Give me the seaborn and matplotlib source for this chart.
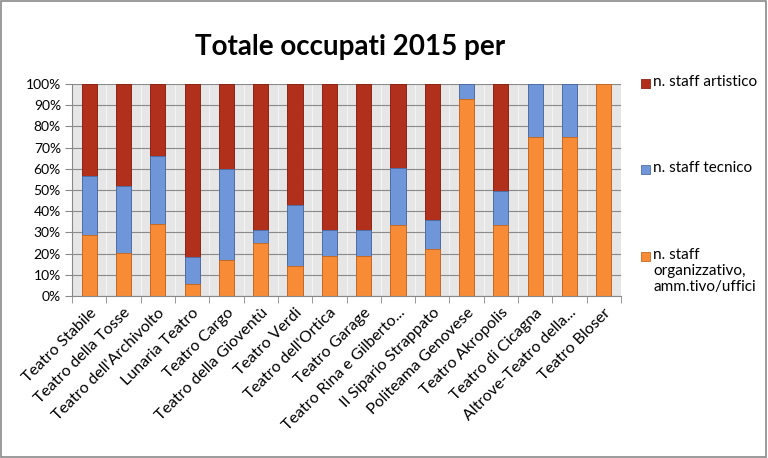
import numpy as np
import pandas as pd
import seaborn as sns
from matplotlib import pyplot as plt
from matplotlib.patches import Rectangle

# data (percent share of employees per theatre)
teatri = ["Teatro Stabile", "Teatro della Tosse", "Teatro dell'Archivolto", "Lunaria Teatro",
          "Teatro Cargo", "Teatro della Gioventù", "Teatro Verdi", "Teatro dell'Ortica",
          "Teatro Garage", "Teatro Rina e Gilberto...", "Il Sipario Strappato",
          "Politeama Genovese", "Teatro Akropolis", "Teatro di Cicagna",
          "Altrove-Teatro della...", "Teatro Bloser"]
organizzativo = [28.6, 20.4, 34.0, 5.7, 17.1, 24.8, 14.3, 19.0, 19.0, 33.5, 22.0, 92.9, 33.5, 74.8, 74.8, 100.0]
tecnico = [28.2, 31.6, 31.9, 12.7, 43.0, 6.2, 28.5, 12.1, 12.1, 26.7, 13.8, 7.1, 16.2, 25.2, 25.2, 0.0]
artistico = [round(100 - o - t, 1) for o, t in zip(organizzativo, tecnico)]

labels = ["n. staff artistico", "n. staff tecnico", "n. staff\norganizzativo,\namm.tivo/uffici"]
colors = ["#B0301B", "#6F96D8", "#F88B35"]
edges = ["#8c2414", "#4f6fa6", "#c56a26"]

df = pd.DataFrame({"teatro": teatri, "org": organizzativo, "tec": tecnico, "art": artistico})
df["org_tec"] = df["org"] + df["tec"]
df["tot"] = df["org_tec"] + df["art"]

fig = plt.figure(figsize=(7.68, 4.58), dpi=100)
ax = fig.add_axes([72 / 768, 162 / 458, 549 / 768, 212 / 458])
ax.set_facecolor("#e6e6e6")

# stacked bars: draw cumulative totals, tallest first
for col, c, e in zip(["tot", "org_tec", "org"], colors, edges):
    sns.barplot(data=df, x="teatro", y=col, color=c, saturation=1, width=0.44,
                edgecolor=e, linewidth=0.7, ax=ax)

ax.set_xlim(-0.5, len(teatri) - 0.5)
ax.set_ylim(0, 100)
ax.set_yticks(np.arange(0, 101, 10))
ax.set_yticklabels([f"{v}%" for v in range(0, 101, 10)], fontsize=10, family="Lato")
ax.set_xticks(np.arange(-0.5, len(teatri), 1), minor=True)
ax.set_xticklabels(teatri, rotation=45, ha="right", rotation_mode="anchor",
                   fontsize=11.5, family="Lato")
ax.tick_params(axis="x", which="major", length=0, pad=7)
ax.tick_params(axis="x", which="minor", length=5, color="#888888")
ax.tick_params(axis="y", length=5, color="#888888", pad=3)
ax.set_axisbelow(True)
ax.yaxis.grid(True, color="#8a8a8a", linewidth=0.8)
ax.xaxis.grid(True, which="minor", color="#f4f4f4", linewidth=0.8)
ax.set_xlabel("")
ax.set_ylabel("")
for side in ["top", "right"]:
    ax.spines[side].set_visible(False)
for side in ["left", "bottom"]:
    ax.spines[side].set_color("#888888")

fig.text(350 / 768, 1 - 47 / 458, "Totale occupati 2015 per", ha="center", va="center",
         fontsize=20, fontweight="bold", family="Lato")

# legend on the right
leg_y = [83, 169, 256]
for y, lab, c, e in zip(leg_y, labels, colors, edges):
    fig.patches.append(Rectangle((641 / 768, 1 - (y + 4.5) / 458), 9 / 768, 9 / 458,
                                 transform=fig.transFigure, facecolor=c, edgecolor=e, lw=0.6))
    fig.text(653 / 768, 1 - (y - 8) / 458, lab, ha="left", va="top", fontsize=11,
             family="Lato", linespacing=1.2)

fig.patches.append(Rectangle((0.001, 0.002), 0.997, 0.996, transform=fig.transFigure,
                             fill=False, edgecolor="#8a8a8a", lw=1.2))

plt.savefig("out.png", dpi=100)
